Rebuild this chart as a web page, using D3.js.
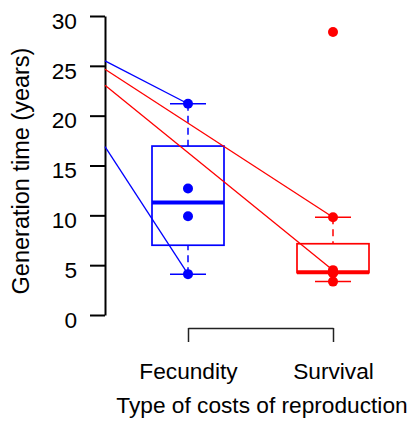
<!DOCTYPE html>
<html>
<head>
<meta charset="utf-8">
<script src="https://cdn.jsdelivr.net/npm/d3@7"></script>
<style>
  body { margin: 0; background: #fff; }
  text { font-family: "Liberation Sans", Arial, sans-serif; fill: #000; }
</style>
</head>
<body>
<div id="chart"></div>
<script>
// data
const categories = ["Fecundity", "Survival"];
const fecundity = [4.1, 9.9, 12.7, 21.2];
const survival = [3.35, 4.2, 4.3, 4.3, 4.5, 9.8, 28.4];
const groupColors = ["#0000ff", "#ff0000"];
const yTicks = [0, 5, 10, 15, 20, 25, 30];
// paired lines coming in from the left edge of the plot
const lineGroups = ["Fecundity", "Fecundity", "Survival", "Survival"];
const lineFrom = [25.5, 16.9, 24.65, 23.05];
const lineTo = [21.2, 4.1, 9.8, 4.5];

let width = 413;
let height = 427;
let axisX = 105;
let axisXY = 328;
let boxHalf = 36;
let capHalf = 18;
let dotRadius = 5;
let fontSize = 22.7;
let titleSize = 23.5;

let svg = d3
  .select("#chart")
  .append("svg")
  .attr("width", width)
  .attr("height", height);

let y = d3.scaleLinear().domain([0, 30]).range([315, 16]);
let x = d3.scalePoint().domain(categories).range([188, 333]);
let color = d3.scaleOrdinal().domain(categories).range(groupColors);

// y axis
let yAxis = svg.append("g")
  .attr("transform", "translate(" + axisX + ",0)")
  .call(d3.axisLeft(y).tickValues(yTicks).tickSize(15).tickSizeOuter(0).tickPadding(13));
yAxis.selectAll("path, line").attr("stroke", "#000").attr("stroke-width", 2);
yAxis.selectAll("text")
  .attr("font-size", fontSize)
  .attr("font-family", "Liberation Sans, Arial, sans-serif")
  .attr("y", 5);

// x axis (bracket style)
let xAxis = svg.append("g")
  .attr("transform", "translate(0," + axisXY + ")")
  .call(d3.axisBottom(x).tickSize(14).tickSizeOuter(0).tickPadding(21));
xAxis.selectAll("path, line").attr("stroke", "#222").attr("stroke-width", 1.5);
xAxis.selectAll("text")
  .attr("font-size", fontSize)
  .attr("font-family", "Liberation Sans, Arial, sans-serif");

// axis titles
svg.append("text")
  .attr("transform", "translate(29,171)rotate(-90)")
  .attr("text-anchor", "middle")
  .attr("font-size", titleSize)
  .text("Generation time (years)");

svg.append("text")
  .attr("x", 262)
  .attr("y", 413)
  .attr("text-anchor", "middle")
  .attr("font-size", fontSize)
  .text("Type of costs of reproduction");

// boxplot stats like R's fivenum / boxplot.stats
function boxStats(values) {
  let v = values.slice().sort(d3.ascending);
  let n = v.length;
  let n4 = Math.floor((n + 3) / 2) / 2;
  let d = [1, n4, (n + 1) / 2, n + 1 - n4, n];
  let f = d.map(p => 0.5 * (v[Math.floor(p) - 1] + v[Math.ceil(p) - 1]));
  let iqr = f[3] - f[1];
  let inside = v.filter(a => a >= f[1] - 1.5 * iqr && a <= f[3] + 1.5 * iqr);
  return { lo: d3.min(inside), q1: f[1], med: f[2], q3: f[3], hi: d3.max(inside) };
}

let groups = [
  { name: categories[0], values: fecundity },
  { name: categories[1], values: survival }
];

let boxes = svg.append("g").selectAll("g")
  .data(groups)
  .join("g")
  .attr("stroke", d => color(d.name))
  .attr("fill", "none");

boxes.each(function(d) {
  let s = boxStats(d.values);
  let g = d3.select(this);
  let cx = x(d.name);
  // whiskers, drawn from the whisker end toward the box
  g.append("line").attr("x1", cx).attr("x2", cx).attr("y1", y(s.lo)).attr("y2", y(s.q1))
    .attr("stroke-width", 1.5).attr("stroke-dasharray", "7,5");
  g.append("line").attr("x1", cx).attr("x2", cx).attr("y1", y(s.hi)).attr("y2", y(s.q3))
    .attr("stroke-width", 1.5).attr("stroke-dasharray", "7,5");
  // caps
  [s.lo, s.hi].forEach(v => {
    g.append("line").attr("x1", cx - capHalf).attr("x2", cx + capHalf)
      .attr("y1", y(v)).attr("y2", y(v)).attr("stroke-width", 1.5);
  });
  g.append("rect")
    .attr("x", cx - boxHalf).attr("width", boxHalf * 2)
    .attr("y", y(s.q3)).attr("height", y(s.q1) - y(s.q3))
    .attr("stroke-width", 1.7);
  g.append("line").attr("x1", cx - boxHalf).attr("x2", cx + boxHalf)
    .attr("y1", y(s.med)).attr("y2", y(s.med)).attr("stroke-width", 4);
});

// paired lines
let lines = lineGroups.map((gname, i) => ({ group: gname, from: lineFrom[i], to: lineTo[i] }));
svg.append("g").selectAll("line")
  .data(lines)
  .join("line")
  .attr("x1", axisX)
  .attr("y1", d => y(d.from))
  .attr("x2", d => x(d.group))
  .attr("y2", d => y(d.to))
  .attr("stroke", d => color(d.group))
  .attr("stroke-width", 1.3);

// points
let points = [];
groups.forEach(g => g.values.forEach(v => points.push({ group: g.name, value: v })));
svg.append("g").selectAll("circle")
  .data(points)
  .join("circle")
  .attr("cx", d => x(d.group))
  .attr("cy", d => y(d.value))
  .attr("r", dotRadius)
  .attr("fill", d => color(d.group));
</script>
</body>
</html>
